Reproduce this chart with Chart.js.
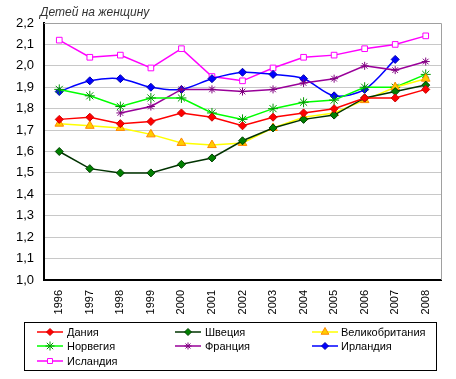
<!DOCTYPE html>
<html><head><meta charset="utf-8">
<script src="https://cdn.jsdelivr.net/npm/chart.js@4/dist/chart.umd.min.js"></script>
<style>html,body{margin:0;padding:0;background:#fff;}#wrap{width:456px;height:379px;position:relative;}</style>
</head><body><div id="wrap"><canvas id="c" width="456" height="379"></canvas></div>
<script>
const years = ['1996','1997','1998','1999','2000','2001','2002','2003','2004','2005','2006','2007','2008'];
const yTicks = [1.0,1.1,1.2,1.3,1.4,1.5,1.6,1.7,1.8,1.9,2.0,2.1,2.2];
const yTitle = 'Детей на женщину';
const denmark = [1.75,1.76,1.73,1.74,1.78,1.76,1.72,1.76,1.78,1.80,1.85,1.85,1.89];
const sweden  = [1.60,1.52,1.50,1.50,1.54,1.57,1.65,1.71,1.75,1.77,1.85,1.88,1.91];
const uk      = [1.73,1.72,1.71,1.68,1.64,1.63,1.64,1.71,1.76,1.78,1.84,1.90,1.94];
const norway  = [1.89,1.86,1.81,1.85,1.85,1.78,1.75,1.80,1.83,1.84,1.90,1.90,1.96];
const france  = [null,null,1.78,1.81,1.89,1.89,1.88,1.89,1.92,1.94,2.00,1.98,2.02];
const ireland = [1.88,1.93,1.94,1.90,1.89,1.94,1.97,1.96,1.94,1.86,1.89,2.03,null];
const iceland = [2.12,2.04,2.05,1.99,2.08,1.95,1.93,1.99,2.04,2.05,2.08,2.10,2.14];
const names = ['Дания','Швеция','Великобритания','Норвегия','Франция','Ирландия','Исландия'];

function ds(label, data, line, ps, fill, border, r, tension){
  return {label, data, borderColor: line, borderWidth: 1.5, pointStyle: ps,
    pointBackgroundColor: fill, pointBorderColor: border, pointBorderWidth: 1,
    pointRadius: r, pointHoverRadius: r, tension: tension||0, spanGaps:false, fill:false};
}
const datasets = [
  ds(names[0], denmark, '#ff0000', 'rectRot', '#ff0000', '#cc0000', 4),
  ds(names[1], sweden, '#003300', 'rectRot', '#008000', '#004000', 4),
  ds(names[2], uk, '#ffff00', 'triangle', '#ffcc00', '#ff8800', 5),
  ds(names[3], norway, '#00ff00', 'star', '#009900', '#009900', 5),
  ds(names[4], france, '#990099', 'star', '#800080', '#800080', 4),
  ds(names[5], ireland, '#0000ff', 'rectRot', '#0000ff', '#0000aa', 4, 0.3),
  ds(names[6], iceland, '#ff00ff', 'rect', '#ffffff', '#ff00ff', 4),
];

const deco = {
  id:'deco',
  beforeDatasetsDraw(chart){
    const {ctx, chartArea:a} = chart;
    ctx.save();
    ctx.strokeStyle = '#a0a0a0'; ctx.lineWidth = 1;
    ctx.beginPath(); ctx.moveTo(a.left, a.top+0.5); ctx.lineTo(a.right+0.5, a.top+0.5); ctx.lineTo(a.right+0.5, a.bottom); ctx.stroke();
    ctx.restore();
  },
  afterDraw(chart){
    const ctx = chart.ctx;
    ctx.save();
    ctx.font = 'italic 12px "Liberation Sans", Arial, sans-serif';
    ctx.fillStyle = '#333333'; ctx.textBaseline = 'alphabetic'; ctx.textAlign='left';
    ctx.fillText(yTitle, 40, 16);
    // legend
    ctx.strokeStyle = '#000'; ctx.lineWidth = 1;
    ctx.strokeRect(24.5, 322.5, 412, 48);
    const cols = [37, 175, 312];
    const rows = [332, 346, 361];
    ctx.font = '11px "Liberation Sans", Arial, sans-serif';
    ctx.textBaseline = 'middle';
    chart.data.datasets.forEach((d,i)=>{
      const cx = cols[i%3], cy = rows[Math.floor(i/3)];
      ctx.strokeStyle = d.borderColor; ctx.lineWidth = 1.5;
      ctx.beginPath(); ctx.moveTo(cx, cy); ctx.lineTo(cx+26, cy); ctx.stroke();
      ctx.fillStyle = d.pointBackgroundColor; ctx.strokeStyle = d.pointBorderColor; ctx.lineWidth = 1;
      Chart.helpers.drawPoint(ctx, {pointStyle: d.pointStyle, radius: d.pointRadius-0.5, borderWidth:1, rotation:0}, cx+13, cy);
      ctx.fillStyle = '#000';
      ctx.fillText(d.label, cx + (i%3===2 ? 29 : 30), cy+0.5);
    });
    ctx.restore();
  }
};

new Chart(document.getElementById('c'), {
  type:'line',
  data:{labels: years, datasets},
  plugins:[deco],
  options:{
    responsive:false, animation:false, devicePixelRatio:1,
    layout:{padding:{top:23, right:15, bottom:57, left:0}},
    plugins:{legend:{display:false}, tooltip:{enabled:false}},
    scales:{
      x:{type:'category', offset:true,
        grid:{display:false, drawTicks:false},
        border:{color:'#000', width:2},
        ticks:{minRotation:90, maxRotation:90, padding:10, color:'#000', font:{family:'"Liberation Sans", Arial, sans-serif', size:11}},
        afterFit(s){ s.height = 42; }
      },
      y:{min:1.0, max:2.2,
        afterBuildTicks(s){ s.ticks = yTicks.map(v=>({value:v})); },
        grid:{color:'#c8c8c8', drawTicks:false},
        border:{color:'#000', width:2},
        ticks:{padding:10, color:'#000', font:{family:'"Liberation Sans", Arial, sans-serif', size:13},
          callback:(v)=>Number(v).toFixed(1).replace('.',',')},
        afterFit(s){ s.width = 44; }
      }
    }
  }
});
</script></body></html>
